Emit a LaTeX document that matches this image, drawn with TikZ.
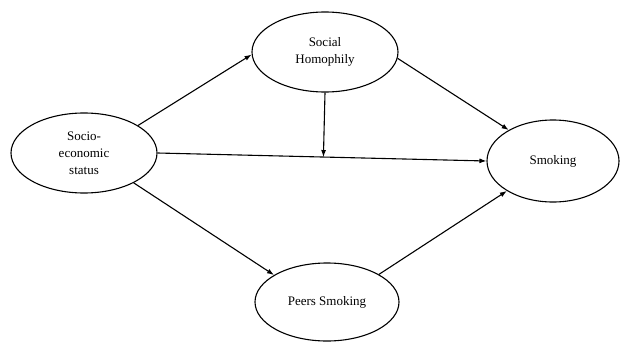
\documentclass[tikz,border=0pt]{standalone}
\usepackage{fontspec}
\setmainfont{Liberation Serif}
\usetikzlibrary{shapes.geometric,arrows.meta,calc}
\begin{document}
\begin{tikzpicture}[x=1pt,y=-1pt,
  ell/.style={draw,ellipse,line width=1.1pt,inner sep=0pt,align=center,
    font=\fontsize{13}{17}\selectfont},
  arr/.style={line width=1.1pt,-{Latex[length=7pt,width=5pt]}}]
\useasboundingbox (0,0) rectangle (620,342);
\node[ell,minimum width=146pt,minimum height=80pt] (soc) at (84,153) {Socio-\\economic\\status};
\node[ell,minimum width=146pt,minimum height=80pt] (hom) at (325,52) {Social\\Homophily};
\node[ell,minimum width=144pt,minimum height=78pt] (peer) at (327,302) {Peers Smoking};
\node[ell,minimum width=132pt,minimum height=82pt] (smk) at (553,161) {Smoking};
\draw[arr] (soc.27) -- (hom.182);
\draw[arr] (soc.east) -- (smk.west);
\coordinate (foot) at ($(soc.east)!(hom.south)!(smk.west)$);
\draw[arr] (hom.south) -- (foot);
\draw[arr] (hom.-5) -- (smk.145);
\draw[arr] (soc.-31) -- (peer.153);
\draw[arr] (peer.28) -- (smk.213);
\end{tikzpicture}
\end{document}
